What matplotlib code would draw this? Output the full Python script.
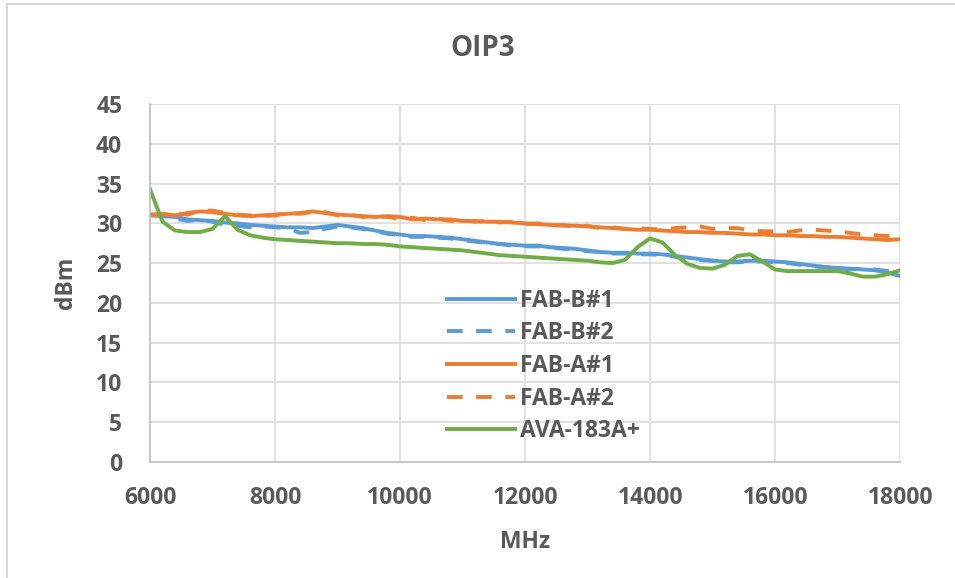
import numpy as np
import matplotlib
matplotlib.use("Agg")
import matplotlib.pyplot as plt
from matplotlib.lines import Line2D

plt.rcParams["font.family"] = ["Open Sans", "DejaVu Sans"]
plt.rcParams["font.weight"] = "bold"

# frequency grid (MHz)
freq = list(range(6000, 18001, 200))

fab_a1 = [31.1, 31.2, 31.0, 31.3, 31.5, 31.4, 31.2, 31.0, 30.9, 31.0,
          31.1, 31.2, 31.3, 31.5, 31.3, 31.1, 31.0, 30.9, 30.8, 30.9,
          30.8, 30.5, 30.6, 30.5, 30.5, 30.3, 30.3, 30.2, 30.2, 30.1,
          30.0, 29.9, 29.8, 29.7, 29.7, 29.6, 29.5, 29.4, 29.3, 29.2,
          29.2, 29.1, 29.0, 28.9, 28.9, 28.8, 28.8, 28.7, 28.6, 28.6,
          28.5, 28.5, 28.4, 28.4, 28.3, 28.3, 28.2, 28.1, 28.0, 27.9,
          28.0]
fab_a2 = [31.0, 31.1, 31.2, 31.1, 31.6, 31.6, 31.3, 31.1, 31.0, 30.9,
          31.0, 31.3, 31.2, 31.4, 31.4, 31.0, 31.1, 30.8, 30.9, 30.8,
          30.6, 30.7, 30.4, 30.6, 30.3, 30.4, 30.2, 30.3, 30.1, 30.2,
          29.9, 30.0, 29.7, 29.8, 29.6, 29.7, 29.4, 29.5, 29.3, 29.4,
          29.3, 29.2, 29.4, 29.5, 29.6, 29.3, 29.4, 29.4, 29.1, 29.0,
          29.0, 28.9, 29.1, 29.2, 29.1, 29.0, 28.8, 28.6, 28.5, 28.4,
          28.8]
fab_b1 = [31.0, 30.9, 30.8, 30.5, 30.4, 30.3, 30.1, 30.0, 29.8, 29.7,
          29.6, 29.5, 29.5, 29.4, 29.6, 29.8, 29.6, 29.4, 29.1, 28.8,
          28.6, 28.4, 28.4, 28.3, 28.2, 28.0, 27.8, 27.6, 27.4, 27.3,
          27.2, 27.2, 27.0, 26.9, 26.8, 26.6, 26.4, 26.3, 26.3, 26.2,
          26.2, 26.1, 25.9, 25.7, 25.5, 25.3, 25.2, 25.2, 25.3, 25.3,
          25.2, 25.1, 24.9, 24.7, 24.5, 24.4, 24.3, 24.2, 24.1, 23.8,
          23.4]
fab_b2 = [31.1, 31.0, 30.6, 30.3, 30.5, 30.2, 29.8, 29.7, 29.5, 29.6,
          29.5, 29.4, 28.8, 28.9, 29.3, 29.6, 29.5, 29.3, 29.0, 28.7,
          28.5, 28.3, 28.3, 28.2, 28.1, 27.9, 27.7, 27.5, 27.4, 27.2,
          27.1, 27.1, 27.0, 26.8, 26.7, 26.5, 26.4, 26.2, 26.2, 26.1,
          26.1, 26.0, 25.8, 25.6, 25.4, 25.3, 25.1, 25.1, 25.2, 25.2,
          25.1, 25.0, 24.8, 24.6, 24.5, 24.3, 24.2, 24.3, 24.2, 24.0,
          23.6]
ava_183 = [34.3, 30.2, 29.1, 28.9, 28.9, 29.3, 30.9, 29.2, 28.5, 28.2,
           28.0, 27.9, 27.8, 27.7, 27.6, 27.5, 27.5, 27.4, 27.4, 27.3,
           27.1, 27.0, 26.9, 26.8, 26.7, 26.6, 26.4, 26.2, 26.0, 25.9,
           25.8, 25.7, 25.6, 25.5, 25.4, 25.3, 25.1, 25.0, 25.4, 27.0,
           28.1, 27.6, 26.0, 24.9, 24.4, 24.3, 24.8, 25.9, 26.1, 25.2,
           24.2, 24.0, 24.0, 24.0, 24.0, 24.0, 23.7, 23.3, 23.3, 23.6,
           24.1]

blue = "#5B9BD5"
orange = "#ED7D31"
green = "#70AD47"
txt = "#595959"

fig = plt.figure(figsize=(9.55, 5.78), dpi=100)
ax = fig.add_axes([150/955, 116/578, 750/955, 358/578])

lw = 2.8
ax.plot(freq, fab_b1, color=blue, lw=lw, label="FAB-B#1")
ax.plot(freq, fab_b2, color=blue, lw=lw, ls=(0, (4, 3.5)), label="FAB-B#2")
ax.plot(freq, fab_a1, color=orange, lw=lw, label="FAB-A#1")
ax.plot(freq, fab_a2, color=orange, lw=lw, ls=(0, (4, 3.5)), label="FAB-A#2")
ax.plot(freq, ava_183, color=green, lw=lw, label="AVA-183A+")

ax.set_xlim(6000, 18000)
ax.set_ylim(0, 45)
ax.set_xticks(range(6000, 18001, 2000))
ax.set_yticks(range(0, 46, 5))
ax.grid(True, color="#D9D9D9", lw=1.1)
ax.set_axisbelow(True)
for s in ["top", "right"]:
    ax.spines[s].set_visible(False)
for s in ["left", "bottom"]:
    ax.spines[s].set_color("#BFBFBF")
    ax.spines[s].set_linewidth(1.2)
ax.tick_params(axis="both", length=0, labelsize=16.5, labelcolor=txt)
ax.tick_params(axis="y", pad=20)
ax.tick_params(axis="x", pad=17)
for lab in ax.get_xticklabels() + ax.get_yticklabels():
    lab.set_fontweight("bold")

ax.set_xlabel("MHz", fontsize=16.5, fontweight="bold", color=txt)
ax.set_ylabel("dBm", fontsize=16.5, fontweight="bold", color=txt)
ax.xaxis.set_label_coords(0.5, -0.19)
ax.yaxis.set_label_coords(-0.096, 0.5)

fig.text(483/955, 1 - 48/578, "OIP3", fontsize=20, fontweight="bold",
         color=txt, ha="center", va="center")

leg = ax.legend(loc="center left", bbox_to_anchor=(0.396, 0.268),
                frameon=False, fontsize=16.5, handlelength=2.95,
                handletextpad=0.25, labelspacing=0.38, borderpad=0,
                borderaxespad=0)
for t in leg.get_texts():
    t.set_color(txt)
    t.set_fontweight("bold")

# chart border
bc = "#D9D9D9"
fig.add_artist(Line2D([7/955, 7/955], [0, 1 - 4/578], color=bc, lw=1.5))
fig.add_artist(Line2D([7/955, 1], [1 - 4/578, 1 - 4/578], color=bc, lw=1.5))

fig.savefig("out.png", dpi=100)
